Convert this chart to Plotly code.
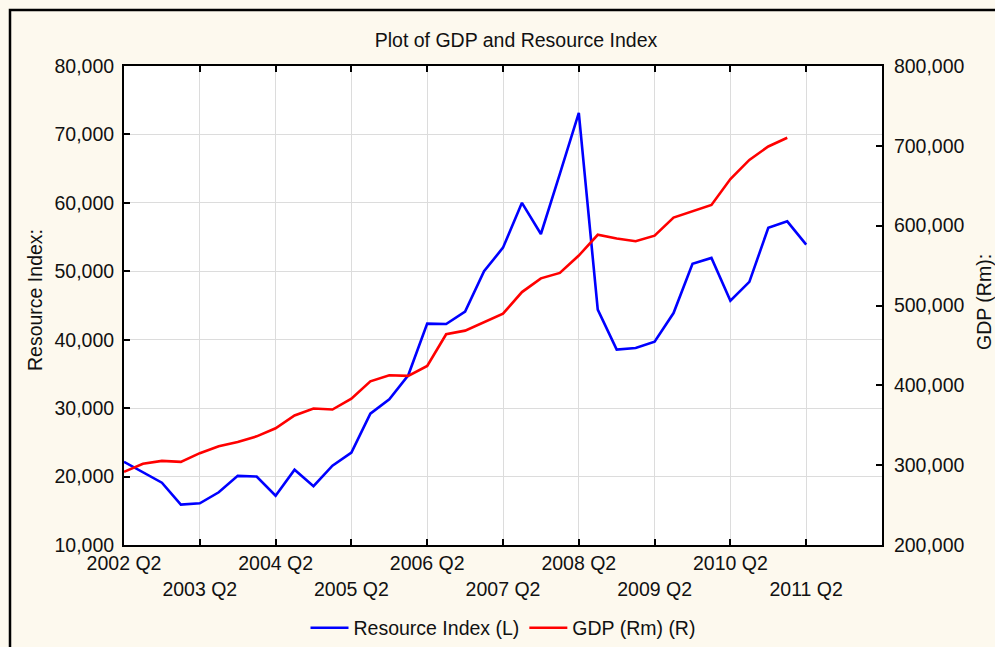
import plotly.graph_objects as go

# ---- data (quarterly, starting 2002 Q2) ----
quarter_index = list(range(37))
resource_index = [22150, 20600, 19100, 15900, 16100, 17700, 20100, 20000, 17200, 21000,
                  18600, 21600, 23500, 29200, 31300, 34800, 42350, 42300, 44100, 50000,
                  53450, 60000, 55450, 64250, 73150, 44400, 38550, 38800, 39700, 43900,
                  51100, 51950, 45700, 48450, 56350, 57300, 53900]
gdp_quarters = list(range(36))
gdp_rm = [291600, 301700, 305400, 304100, 315000, 323800, 329000, 336100, 346200, 362200,
          371000, 369700, 383200, 405000, 412600, 411800, 424200, 464000, 468500, 479000,
          489800, 516800, 534000, 540800, 562600, 588600, 584000, 580500, 587500, 610100,
          618500, 626000, 658400, 682400, 699200, 710100]
tick_positions = [0, 4, 8, 12, 16, 20, 24, 28, 32, 36]
tick_labels = ["2002 Q2", "2003 Q2", "2004 Q2", "2005 Q2", "2006 Q2",
               "2007 Q2", "2008 Q2", "2009 Q2", "2010 Q2", "2011 Q2"]

FONT = "Liberation Sans, Arial, sans-serif"
FS = 19.5
BG = "#FDF9EE"

ticktext = [t if i % 2 == 0 else "<br>" + t for i, t in enumerate(tick_labels)]

fig = go.Figure()
fig.add_trace(go.Scatter(x=quarter_index, y=resource_index, mode="lines",
                         name="Resource Index (L)",
                         line=dict(color="#0000FF", width=2.6), yaxis="y"))
fig.add_trace(go.Scatter(x=gdp_quarters, y=gdp_rm, mode="lines",
                         name="GDP (Rm) (R)",
                         line=dict(color="#FF0000", width=2.6), yaxis="y2"))

W, H = 995, 647
PL, PR, PT, PB = 124, 882, 66, 545   # plot area in page pixels
L, R, T, B = PL, W - PR, PT, H - PB
pw, ph = PR - PL, PB - PT

def px_x(x):
    return (x - PL) / pw

def px_y(y):
    return (PB - y) / ph

fig.update_layout(
    width=W, height=H,
    margin=dict(l=L, r=R, t=T, b=B, pad=0, autoexpand=False),
    paper_bgcolor=BG, plot_bgcolor="white",
    font=dict(family=FONT, size=FS, color="#111111"),
    title=dict(text="Plot of GDP and Resource Index", x=px_x(516), xref="paper", xanchor="center",
               y=1 - 40 / H, yanchor="middle", font=dict(size=FS, family=FONT)),
    xaxis=dict(range=[0, 40], tickmode="array", tickvals=tick_positions, ticktext=ticktext,
               showgrid=True, gridcolor="#DCDCDC", gridwidth=1,
               showline=True, linecolor="black", linewidth=2, mirror="ticks",
               ticks="inside", ticklen=6, tickcolor="black", tickwidth=1.5,
               zeroline=False, tickangle=0, ticklabelstandoff=0, automargin=False),
    yaxis=dict(range=[10000, 80000], tickmode="array",
               tickvals=list(range(10000, 80001, 10000)), tickformat=",d",
               showgrid=True, gridcolor="#DCDCDC", gridwidth=1,
               showline=True, linecolor="black", linewidth=2,
               ticks="inside", ticklen=6, tickcolor="black", tickwidth=1.5,
               zeroline=False, ticklabelstandoff=4, automargin=False),
    yaxis2=dict(range=[200000, 800000], overlaying="y", side="right",
                tickmode="array", tickvals=list(range(200000, 800001, 100000)), tickformat=",d",
                showgrid=False, showline=True, linecolor="black", linewidth=2,
                ticks="inside", ticklen=6, tickcolor="black", tickwidth=1.5,
                zeroline=False, ticklabelstandoff=6, automargin=False),
    legend=dict(orientation="h", x=px_x(503), xanchor="center", y=px_y(628), yanchor="middle",
                bgcolor="rgba(0,0,0,0)", itemwidth=38, font=dict(size=FS, family=FONT)),
    showlegend=True,
)

fig.add_annotation(text="Resource Index:", textangle=-90, xref="paper", yref="paper",
                   x=px_x(35), y=px_y(300), xanchor="center", yanchor="middle",
                   showarrow=False, font=dict(size=FS, family=FONT))
fig.add_annotation(text="GDP (Rm):", textangle=-90, xref="paper", yref="paper",
                   x=px_x(984), y=px_y(302), xanchor="center", yanchor="middle",
                   showarrow=False, font=dict(size=FS, family=FONT))

# outer frame border
fig.add_shape(type="rect", xref="paper", yref="paper",
              x0=px_x(10), x1=px_x(1010), y0=px_y(670), y1=px_y(10),
              line=dict(color="black", width=2.5), fillcolor="rgba(0,0,0,0)", layer="below")

fig.write_html("out.html", config={"displayModeBar": False},
               post_script="document.body.style.margin='0';document.body.style.overflow='hidden';")
